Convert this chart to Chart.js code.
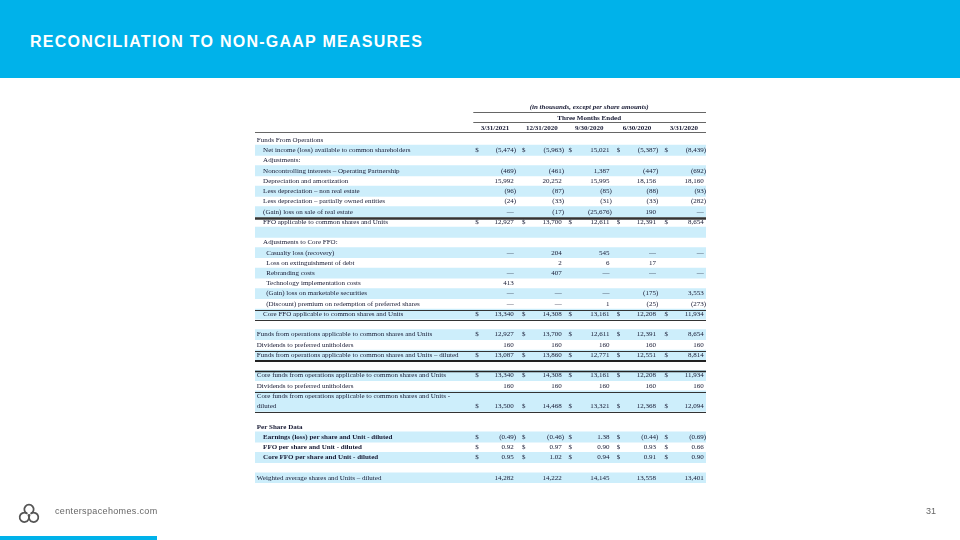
<!DOCTYPE html>
<html>
<head>
<meta charset="utf-8">
<script src="https://cdn.jsdelivr.net/npm/chart.js@4.4.0/dist/chart.umd.min.js"></script>
<style>
  html, body { margin: 0; padding: 0; background: #fff; }
  #page { position: relative; width: 960px; height: 540px; overflow: hidden; font-family: "Liberation Sans", Arial, sans-serif; }
  #band { position: absolute; left: 0; top: 0; width: 960px; height: 78px; background: #00b2ea; }
  #title { position: absolute; left: 30px; top: 33px; color: #fff; font-weight: bold; font-size: 16px; letter-spacing: 1.25px; white-space: nowrap; }
  #chart { position: absolute; left: 0; top: 0; }
  #logo { position: absolute; left: 17px; top: 502px; }
  #site { position: absolute; left: 55px; top: 506px; font-size: 9px; color: #666; letter-spacing: 0.35px; }
  #pageno { position: absolute; left: 926px; top: 506px; font-size: 9px; color: #666; }
  #foot { position: absolute; left: 0; top: 536px; width: 157px; height: 4px; background: #00b2ea; }
</style>
</head>
<body>
<div id="page">
  <div id="band"></div>
  <div id="title">RECONCILIATION TO NON-GAAP MEASURES</div>
  <canvas id="chart" width="960" height="540"></canvas>
  <svg id="logo" width="24" height="24" viewBox="0 0 18 18">
    <g fill="none" stroke="#555" stroke-width="1.3" stroke-linecap="round">
      <path d="M7.25 8.53 A3.5 3.5 0 1 1 10.75 8.53"/>
      <path d="M8.53 9.75 A3.5 3.5 0 1 1 7.25 8.47"/>
      <path d="M10.75 8.47 A3.5 3.5 0 1 1 9.47 9.75"/>
    </g>
  </svg>
  <div id="site">centerspacehomes.com</div>
  <div id="pageno">31</div>
  <div id="foot"></div>
</div>

<script>
// ---- data ----
const periods = ["3/31/2021", "12/31/2020", "9/30/2020", "6/30/2020", "3/31/2020"];

const rowLabels = [
  "Funds From Operations",
  "Net income (loss) available to common shareholders",
  "Adjustments:",
  "Noncontrolling interests \u2013 Operating Partnership",
  "Depreciation and amortization",
  "Less depreciation \u2013 non real estate",
  "Less depreciation \u2013 partially owned entities",
  "(Gain) loss on sale of real estate",
  "FFO applicable to common shares and Units",
  "",
  "Adjustments to Core FFO:",
  "Casualty loss (recovery)",
  "Loss on extinguishment of debt",
  "Rebranding costs",
  "Technology implementation costs",
  "(Gain) loss on marketable securities",
  "(Discount) premium on redemption of preferred shares",
  "Core FFO applicable to common shares and Units",
  "",
  "Funds from operations applicable to common shares and Units",
  "Dividends to preferred unitholders",
  "Funds from operations applicable to common shares and Units \u2013 diluted",
  "",
  "Core funds from operations applicable to common shares and Units",
  "Dividends to preferred unitholders",
  "Core funds from operations applicable to common shares and Units -",
  "diluted",
  "",
  "Per Share Data",
  "Earnings (loss) per share and Unit - diluted",
  "FFO per share and Unit - diluted",
  "Core FFO per share and Unit - diluted",
  "",
  "Weighted average shares and Units \u2013 diluted"
];

// one entry per row, values in period order (null = no values on that row)
const rowValues = [
  null,
  ["(5,474)", "(5,963)", "15,021", "(5,387)", "(8,439)"],
  null,
  ["(469)", "(461)", "1,387", "(447)", "(692)"],
  ["15,992", "20,252", "15,995", "18,156", "18,160"],
  ["(96)", "(87)", "(85)", "(88)", "(93)"],
  ["(24)", "(33)", "(31)", "(33)", "(282)"],
  ["\u2014", "(17)", "(25,676)", "190", "\u2014"],
  ["12,927", "13,700", "12,611", "12,391", "8,654"],
  null,
  null,
  ["\u2014", "204", "545", "\u2014", "\u2014"],
  ["", "2", "6", "17", ""],
  ["\u2014", "407", "\u2014", "\u2014", "\u2014"],
  ["413", "", "", "", ""],
  ["\u2014", "\u2014", "\u2014", "(175)", "3,553"],
  ["\u2014", "\u2014", "1", "(25)", "(273)"],
  ["13,340", "14,308", "13,161", "12,208", "11,934"],
  null,
  ["12,927", "13,700", "12,611", "12,391", "8,654"],
  ["160", "160", "160", "160", "160"],
  ["13,087", "13,860", "12,771", "12,551", "8,814"],
  null,
  ["13,340", "14,308", "13,161", "12,208", "11,934"],
  ["160", "160", "160", "160", "160"],
  null,
  ["13,500", "14,468", "13,321", "12,368", "12,094"],
  null,
  null,
  ["(0.49)", "(0.46)", "1.38", "(0.44)", "(0.69)"],
  ["0.92", "0.97", "0.90", "0.93", "0.66"],
  ["0.95", "1.02", "0.94", "0.91", "0.90"],
  null,
  ["14,282", "14,222", "14,145", "13,558", "13,401"]
];

const dollarRows = [1, 8, 17, 19, 21, 23, 26, 29, 30, 31];
const shadedRows = [1, 3, 5, 7, 9, 11, 13, 15, 17, 19, 21, 23, 25, 26, 29, 31, 33];

// ---- layout (x scale runs 0..100 across the table) ----
const indent = { 0: 0.4, 1: 1.8, 2: 2.5 };
const rowIndent = [0, 1, 1, 1, 1, 1, 1, 1, 1, 1, 1, 2, 2, 2, 2, 2, 2, 1, 0, 0, 0, 0, 0, 0, 0, 0, 0, 0, 0, 1, 1, 1, 0, 0];
const boldRows = [28, 29, 30, 31];
const dollarX = [49.2, 59.6, 69.9, 80.6, 91.2];
const valueRight = [57.4, 68.0, 78.6, 88.9, 99.5];
const headCenter = [53.2, 63.6, 74.1, 84.7, 95.1];
const spanCenter = 74.1;
const rules = [
  { at: -2.77, from: 48.4, to: 100, w: 1, c: "#666" },
  { at: -1.75, from: 48.4, to: 100, w: 1, c: "#666" },
  { at: -0.75, from: 0, to: 100, w: 1, c: "#666" },
  { at: 7.6, from: 0, to: 100, w: 2.5, c: "#333" },
  { at: 16.6, from: 0, to: 100, w: 1.2, c: "#333" },
  { at: 17.6, from: 0, to: 100, w: 1.2, c: "#333" },
  { at: 20.6, from: 0, to: 100, w: 1.2, c: "#333" },
  { at: 21.6, from: 0, to: 100, w: 2, c: "#222" },
  { at: 22.6, from: 0, to: 100, w: 1.6, c: "#222" },
  { at: 24.6, from: 0, to: 100, w: 1.2, c: "#333" },
  { at: 26.6, from: 0, to: 100, w: 1.2, c: "#333" }
];

const SERIF = '"Liberation Serif", "Times New Roman", serif';
const INK = "#161933";

const tableText = {
  id: "tableText",
  afterDatasetsDraw(chart) {
    const ctx = chart.ctx;
    const xs = chart.scales.x, ys = chart.scales.y;
    ctx.save();

    rules.forEach(r => {
      const y = Math.round(ys.getPixelForValue(r.at)) + (r.w % 2 ? 0.5 : 0);
      ctx.strokeStyle = r.c;
      ctx.lineWidth = r.w;
      ctx.beginPath();
      ctx.moveTo(xs.getPixelForValue(r.from), y);
      ctx.lineTo(xs.getPixelForValue(r.to), y);
      ctx.stroke();
    });

    ctx.fillStyle = INK;
    ctx.textBaseline = "middle";

    // header
    ctx.textAlign = "center";
    ctx.font = "italic bold 7px " + SERIF;
    ctx.fillText("(in thousands, except per share amounts)", xs.getPixelForValue(spanCenter), ys.getPixelForValue(-3.22));
    ctx.font = "bold 7px " + SERIF;
    ctx.fillText("Three Months Ended", xs.getPixelForValue(spanCenter), ys.getPixelForValue(-2.17));
    periods.forEach((p, j) => {
      ctx.fillText(p, xs.getPixelForValue(headCenter[j]), ys.getPixelForValue(-1.17));
    });

    // rows
    rowLabels.forEach((label, i) => {
      const y = ys.getPixelForValue(i);
      ctx.font = (boldRows.includes(i) ? "bold " : "") + "7px " + SERIF;
      ctx.textAlign = "left";
      if (label) ctx.fillText(label, xs.getPixelForValue(indent[rowIndent[i]]), y);

      ctx.font = "7px " + SERIF;
      if (dollarRows.includes(i)) {
        ctx.textAlign = "center";
        dollarX.forEach(dx => ctx.fillText("$", xs.getPixelForValue(dx), y));
      }
      const vals = rowValues[i];
      if (!vals) return;
      ctx.textAlign = "right";
      const paren = ctx.measureText(")").width;
      vals.forEach((v, j) => {
        if (!v) return;
        let x = xs.getPixelForValue(valueRight[j]);
        if (v.endsWith(")")) x += paren;
        ctx.fillText(v, x, y);
      });
    });
    ctx.restore();
  }
};

new Chart(document.getElementById("chart").getContext("2d"), {
  type: "bar",
  data: {
    labels: rowLabels.map((l, i) => String(i)),
    datasets: [{
      data: rowLabels.map((l, i) => shadedRows.includes(i) ? [0, 100] : null),
      backgroundColor: "#cdeefb",
      borderWidth: 0,
      barPercentage: 1,
      categoryPercentage: 1
    }]
  },
  options: {
    indexAxis: "y",
    responsive: false,
    animation: false,
    layout: { padding: { left: 255, right: 254, top: 134.9, bottom: 56.9 } },
    scales: {
      x: { type: "linear", min: 0, max: 100, display: false },
      y: { type: "category", offset: true, display: false }
    },
    plugins: { legend: { display: false }, tooltip: { enabled: false } }
  },
  plugins: [tableText]
});
</script>
</body>
</html>
